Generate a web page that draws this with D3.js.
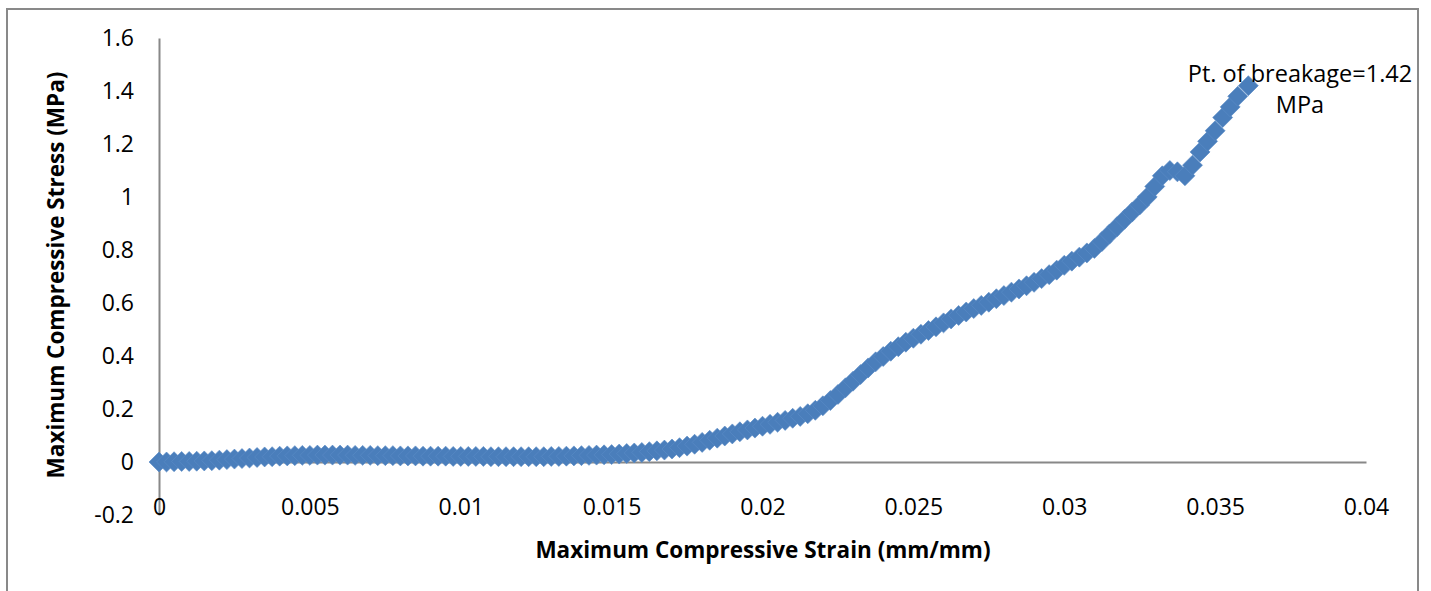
<!DOCTYPE html>
<html>
<head>
<meta charset="utf-8">
<script src="https://cdn.jsdelivr.net/npm/d3@7"></script>
<style>
  body { margin: 0; background: #fff; }
  svg { display: block; font-family: "Open Sans", sans-serif; }
</style>
</head>
<body>
<div id="chart"></div>
<script>
// strain (mm/mm)
const strain = [
  0, 0.00025, 0.0005, 0.00075, 0.001, 0.00125, 0.0015, 0.00175,
  0.002, 0.00225, 0.0025, 0.00275, 0.003, 0.00325, 0.0035, 0.00375,
  0.004, 0.00425, 0.0045, 0.00475, 0.005, 0.00525, 0.0055, 0.00575,
  0.006, 0.00625, 0.0065, 0.00675, 0.007, 0.00725, 0.0075, 0.00775,
  0.008, 0.00825, 0.0085, 0.00875, 0.009, 0.00925, 0.0095, 0.00975,
  0.01, 0.01025, 0.0105, 0.01075, 0.011, 0.01125, 0.0115, 0.01175,
  0.012, 0.01225, 0.0125, 0.01275, 0.013, 0.01325, 0.0135, 0.01375,
  0.014, 0.01425, 0.0145, 0.01475, 0.015, 0.01525, 0.0155, 0.01575,
  0.016, 0.01625, 0.0165, 0.01675, 0.017, 0.01725, 0.0175, 0.01775,
  0.018, 0.01825, 0.0185, 0.01875, 0.019, 0.01925, 0.0195, 0.01975,
  0.02, 0.02025, 0.0205, 0.02075, 0.021, 0.02125, 0.0215, 0.02175,
  0.022, 0.02225, 0.0225, 0.02275, 0.023, 0.02325, 0.0235, 0.02375,
  0.024, 0.02425, 0.0245, 0.02475, 0.025, 0.02525, 0.0255, 0.02575,
  0.026, 0.02625, 0.0265, 0.02675, 0.027, 0.02725, 0.0275, 0.02775,
  0.028, 0.02825, 0.0285, 0.02875, 0.029, 0.02925, 0.0295, 0.02975,
  0.03, 0.03025, 0.0305, 0.03075, 0.031, 0.03125, 0.0315, 0.03175,
  0.032, 0.03225, 0.0325, 0.03275, 0.033, 0.03325, 0.0335, 0.03375,
  0.034, 0.03425, 0.0345, 0.03475, 0.035, 0.03525, 0.0355, 0.03575,
  0.0361
];

// stress (MPa)
const stress = [
  0, 0, 0.001, 0.002, 0.002, 0.003, 0.004, 0.005,
  0.007, 0.009, 0.011, 0.013, 0.015, 0.017, 0.019, 0.02,
  0.022, 0.023, 0.024, 0.025, 0.025, 0.026, 0.026, 0.026,
  0.026, 0.026, 0.025, 0.025, 0.025, 0.024, 0.024, 0.024,
  0.023, 0.023, 0.023, 0.022, 0.022, 0.022, 0.022, 0.021,
  0.021, 0.021, 0.021, 0.021, 0.02, 0.02, 0.02, 0.02,
  0.02, 0.02, 0.02, 0.02, 0.021, 0.021, 0.022, 0.023,
  0.024, 0.025, 0.026, 0.027, 0.028, 0.03, 0.032, 0.034,
  0.036, 0.039, 0.042, 0.045, 0.049, 0.054, 0.06, 0.067,
  0.074, 0.082, 0.09, 0.098, 0.106, 0.114, 0.121, 0.128,
  0.135, 0.142, 0.15, 0.157, 0.165, 0.172, 0.182, 0.195,
  0.212, 0.232, 0.255, 0.28, 0.305, 0.33, 0.355, 0.378,
  0.398, 0.418, 0.435, 0.452, 0.467, 0.482, 0.496, 0.51,
  0.525, 0.54, 0.553, 0.566, 0.579, 0.591, 0.603, 0.616,
  0.628, 0.641, 0.653, 0.665, 0.678, 0.692, 0.707, 0.724,
  0.742, 0.758, 0.773, 0.789, 0.806, 0.832, 0.86, 0.888,
  0.916, 0.943, 0.97, 1.0, 1.04, 1.08, 1.1, 1.095,
  1.08, 1.12, 1.17, 1.21, 1.25, 1.3, 1.34, 1.38,
  1.42
];

const xTicks = [0, 0.005, 0.01, 0.015, 0.02, 0.025, 0.03, 0.035, 0.04];
const xTickLabels = ["0", "0.005", "0.01", "0.015", "0.02", "0.025", "0.03", "0.035", "0.04"];
const yTicks = [-0.2, 0, 0.2, 0.4, 0.6, 0.8, 1, 1.2, 1.4, 1.6];
const yTickLabels = ["-0.2", "0", "0.2", "0.4", "0.6", "0.8", "1", "1.2", "1.4", "1.6"];

const xTitle = "Maximum Compressive Strain (mm/mm)";
const yTitle = "Maximum Compressive Stress (MPa)";
const note = ["Pt. of breakage=1.42", "MPa"];

var w = 1431;
var h = 591;

const svg = d3
  .select("#chart")
  .append("svg")
  .attr("width", w)
  .attr("height", h);

// chart border
svg
  .append("rect")
  .attr("x", 7)
  .attr("y", 9)
  .attr("width", 1411)
  .attr("height", 600)
  .attr("fill", "none")
  .attr("stroke", "#898989")
  .attr("stroke-width", 2);

// scales
const x = d3.scaleLinear().domain([0, 0.04]).range([159, 1366]);
const y = d3.scaleLinear().domain([-0.2, 1.6]).range([515, 38]);

// y axis
const yAxis = d3
  .axisLeft(y)
  .tickValues(yTicks)
  .tickFormat((d, i) => yTickLabels[i])
  .tickSize(0)
  .tickPadding(25);

const gy = svg
  .append("g")
  .attr("transform", "translate(" + x(0) + ",0)")
  .call(yAxis);

// x axis sits at zero, labels drop to the bottom of the plot
const xAxis = d3
  .axisBottom(x)
  .tickValues(xTicks)
  .tickFormat((d, i) => xTickLabels[i])
  .tickSize(0)
  .tickPadding(37);

const gx = svg
  .append("g")
  .attr("transform", "translate(0," + y(0) + ")")
  .call(xAxis);

[gx, gy].forEach((g) => {
  g.attr("font-family", "'Open Sans', sans-serif");
  g.select(".domain").attr("stroke", "#888").attr("stroke-width", 2);
  g.selectAll("text")
    .attr("fill", "#000")
    .style("font-size", "23px");
});

// markers
const pts = strain.map((s, i) => [s, stress[i]]);
const diamond = d3.symbol().type(d3.symbolSquare).size(200);

svg
  .append("g")
  .selectAll("path")
  .data(pts)
  .enter()
  .append("path")
  .attr("d", diamond)
  .attr("transform", (d) => "translate(" + x(d[0]) + "," + y(d[1]) + ") rotate(45)")
  .attr("fill", "#4a7ebb")
  .attr("stroke", "#5b8bc6")
  .attr("stroke-width", 0.6);

// axis titles
svg
  .append("text")
  .attr("x", 763)
  .attr("y", 558)
  .attr("text-anchor", "middle")
  .style("font-size", "22.5px")
  .style("font-weight", "bold")
  .text(xTitle);

svg
  .append("text")
  .attr("transform", "translate(64,275) rotate(-90)")
  .attr("text-anchor", "middle")
  .style("font-size", "22.5px")
  .style("font-weight", "bold")
  .text(yTitle);

// breakage label
svg
  .append("text")
  .attr("text-anchor", "middle")
  .style("font-size", "23.5px")
  .selectAll("tspan")
  .data(note)
  .enter()
  .append("tspan")
  .attr("x", 1300)
  .attr("y", (d, i) => 82 + i * 31)
  .text((d) => d);
</script>
</body>
</html>
